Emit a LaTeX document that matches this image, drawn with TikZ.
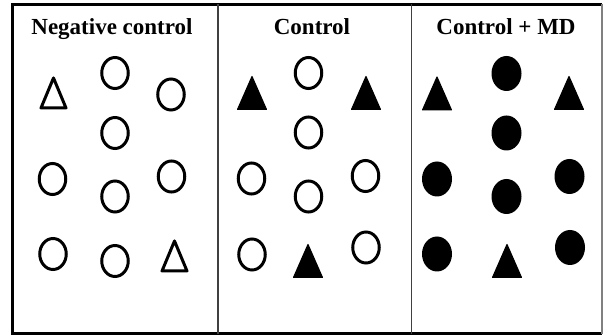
\documentclass[tikz,border=0pt]{standalone}
\usepackage{fontspec}
\setmainfont{Liberation Serif}
\usetikzlibrary{shapes.geometric}
\begin{document}
\begin{tikzpicture}[x=1pt,y=-1pt,
  title/.style={anchor=base,inner sep=0pt,font=\fontsize{23}{27}\selectfont\bfseries},
  ocirc/.style={ellipse,draw,line width=3pt,minimum width=26.5pt,minimum height=31pt,inner sep=0pt},
  fcirc/.style={ellipse,fill,minimum width=30pt,minimum height=35pt,inner sep=0pt},
  frame/.style={line width=3pt},
  divider/.style={black!75,line width=1.4pt},
  otri/.pic={\draw[line width=3pt,line join=round] (-12.5,15) -- (12.5,15) -- (0,-15) -- cycle;},
  ftri/.pic={\filldraw[line width=1.2pt,line join=round] (-14.4,16.4) -- (14.4,16.4) -- (0,-16.4) -- cycle;}
]
\useasboundingbox (0,0) rectangle (603,336);

% outer frame and panel dividers
\draw[frame] (602,4.5) -- (12.5,4.5) -- (12.5,334) -- (602,334);
\draw[gray,line width=2.2pt] (602.3,4.5) -- (602.3,334);
\draw[divider] (218,4.5) -- (218,334);
\draw[divider] (411.5,4.5) -- (411.5,334);

% panel titles
\node[title] (t1) at (112,34.5) {Negative control};
\node[title] (t2) at (312,34.5) {Control};
\node[title] (t3) at (506,34.5) {Control + MD};

% negative control
\pic (a1) at (53.5,93) {otri};
\node[ocirc] (a2) at (115,73) {};
\node[ocirc] (a3) at (171,94.5) {};
\node[ocirc] (a4) at (115,133) {};
\node[ocirc] (a5) at (52.5,179) {};
\node[ocirc] (a6) at (115,196.5) {};
\node[ocirc] (a7) at (171.5,176.5) {};
\node[ocirc] (a8) at (53,254) {};
\node[ocirc] (a9) at (115,261) {};
\pic (a10) at (174.5,256) {otri};

% control
\pic (b1) at (252,93) {ftri};
\node[ocirc] (b2) at (308.5,73) {};
\pic (b3) at (366,93) {ftri};
\node[ocirc] (b4) at (308.5,132.5) {};
\node[ocirc] (b5) at (251.5,178.5) {};
\node[ocirc] (b6) at (308.5,196.5) {};
\node[ocirc] (b7) at (365.5,176) {};
\node[ocirc] (b8) at (252,254.5) {};
\pic (b9) at (308,261) {ftri};
\node[ocirc] (b10) at (366,247.5) {};

% control + MD
\pic (c1) at (437,93.5) {ftri};
\node[fcirc] (c2) at (506.5,73.5) {};
\pic (c3) at (569,93) {ftri};
\node[fcirc] (c4) at (506.5,133) {};
\node[fcirc] (c5) at (437,179) {};
\node[fcirc] (c6) at (506.5,196.5) {};
\node[fcirc] (c7) at (569.5,176.5) {};
\node[fcirc] (c8) at (437,254) {};
\pic (c9) at (507,261) {ftri};
\node[fcirc] (c10) at (570,247.5) {};
\end{tikzpicture}
\end{document}
